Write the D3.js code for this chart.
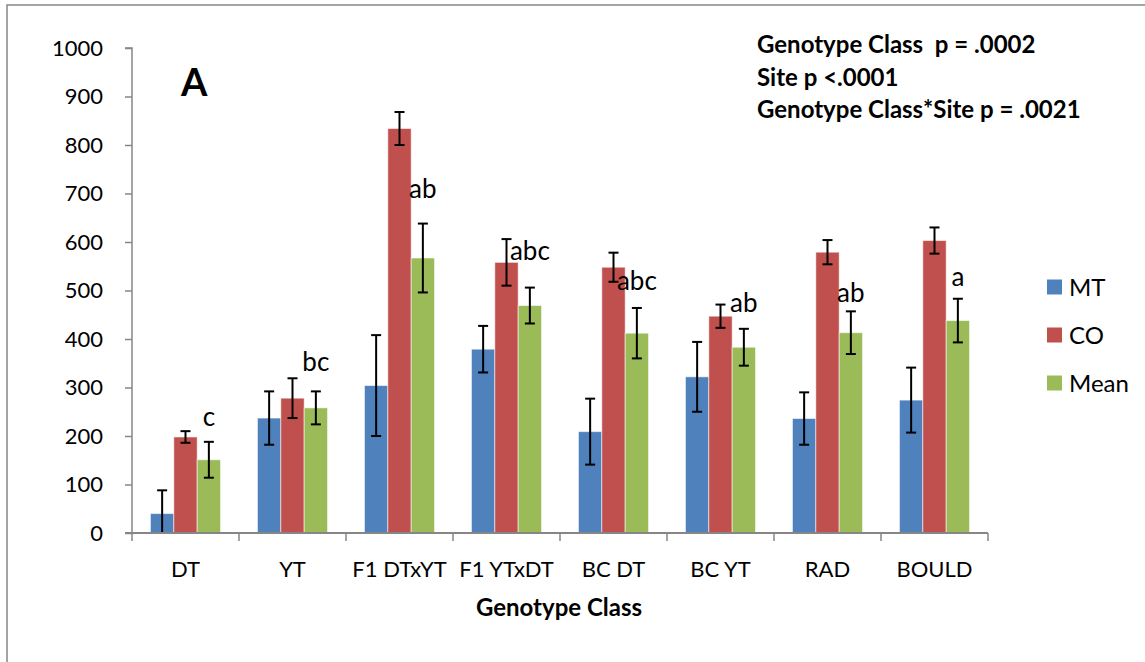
<!DOCTYPE html>
<html>
    <head>
        <meta charset="UTF-8" />
        <title>Genotype Class</title>
        <script src="https://d3js.org/d3.v7.min.js"></script>
        <style>
body {
    margin: 0px;
    background: white;
}
svg text {
    font-family: Lato, "Open Sans", sans-serif;
}
        </style>
    </head>
    <body>
        <svg id="chart" width="1145" height="662"></svg>
<script>
// data
const categories = ["DT", "YT", "F1 DTxYT", "F1 YTxDT", "BC DT", "BC YT", "RAD", "BOULD"];
const seriesNames = ["MT", "CO", "Mean"];
const mtValues   = [40, 237, 304, 379, 209, 322, 236, 274];
const mtErrors   = [48, 55, 104, 48, 68, 72, 54, 67];
const coValues   = [198, 278, 834, 558, 548, 447, 579, 603];
const coErrors   = [12, 41, 34, 48, 30, 24, 25, 27];
const meanValues = [151, 258, 567, 469, 412, 383, 413, 438];
const meanErrors = [37, 34, 71, 37, 52, 38, 44, 45];
const letters      = ["c", "bc", "ab", "abc", "abc", "ab", "ab", "a"];
const letterLevels = [220, 333, 690, 562, 502, 456, 477, 510];
const yTicks = [0, 100, 200, 300, 400, 500, 600, 700, 800, 900, 1000];
const statLines = ["Genotype Class  p = .0002", "Site p <.0001", "Genotype Class*Site p = .0021"];

const colors = {MT: "#4f81bd", CO: "#c0504d", Mean: "#9bbb59"};
const axisGray = "#868686";

let svg = d3.select("#chart");

// outer frame
svg.append("rect")
    .attr("x", 7).attr("y", 5)
    .attr("width", 1160).attr("height", 680)
    .attr("fill", "none")
    .attr("stroke", axisGray)
    .attr("stroke-width", 1.5);

let plotLeft = 132, plotRight = 988, plotTop = 48, plotBottom = 533;

let x0 = d3.scaleBand()
    .domain(categories)
    .range([plotLeft, plotRight])
    .paddingInner(0.345)
    .paddingOuter(0.1725);
let x1 = d3.scaleBand()
    .domain(seriesNames)
    .range([0, x0.bandwidth()]);
let y = d3.scaleLinear().domain([0, 1000]).range([plotBottom, plotTop]);

// rows per category
let rows = categories.map((c, i) => ({
    cat: c,
    bars: [
        {s: "MT", v: mtValues[i], e: mtErrors[i]},
        {s: "CO", v: coValues[i], e: coErrors[i]},
        {s: "Mean", v: meanValues[i], e: meanErrors[i]}
    ]
}));

let groups = svg.append("g").selectAll("g")
    .data(rows)
    .join("g")
    .attr("transform", d => `translate(${x0(d.cat)},0)`);

groups.selectAll("rect")
    .data(d => d.bars)
    .join("rect")
    .attr("x", d => x1(d.s))
    .attr("y", d => y(d.v))
    .attr("width", x1.bandwidth())
    .attr("height", d => y(0) - y(d.v))
    .attr("fill", d => colors[d.s])
    .attr("stroke", "rgba(255,255,255,0.55)")
    .attr("stroke-width", 1);

// error bars
let capW = 5;
let errs = groups.selectAll("g.err")
    .data(d => d.bars)
    .join("g")
    .attr("class", "err")
    .attr("stroke", "black")
    .attr("stroke-width", 2);
errs.each(function(d) {
    let g = d3.select(this);
    let cx = x1(d.s) + x1.bandwidth() / 2;
    let hi = d.v + d.e;
    let lo = Math.max(0, d.v - d.e);
    g.append("line").attr("x1", cx).attr("x2", cx).attr("y1", y(hi)).attr("y2", y(lo));
    g.append("line").attr("x1", cx - capW).attr("x2", cx + capW).attr("y1", y(hi)).attr("y2", y(hi));
    if (d.v - d.e > 0) {
        g.append("line").attr("x1", cx - capW).attr("x2", cx + capW).attr("y1", y(lo)).attr("y2", y(lo));
    }
});

// significance letters over the Mean bar
svg.append("g").selectAll("text")
    .data(categories)
    .join("text")
    .attr("x", (c, i) => x0(c) + x1("Mean") + x1.bandwidth() / 2)
    .attr("y", (c, i) => y(letterLevels[i]))
    .attr("text-anchor", "middle")
    .attr("font-size", 26)
    .attr("fill", "black")
    .text((c, i) => letters[i]);

// y axis
let yAxis = d3.axisLeft(y).tickValues(yTicks).tickSize(7).tickPadding(22).tickFormat(d3.format("d"));
let gy = svg.append("g").attr("transform", `translate(${plotLeft},0)`).call(yAxis);
gy.select(".domain").attr("stroke", axisGray).attr("stroke-width", 1.5).attr("d", `M-7,${plotTop}H0V${plotBottom}`);
gy.selectAll(".tick line").attr("stroke", axisGray).attr("stroke-width", 1.5);
gy.selectAll(".tick text").attr("font-size", 22).attr("fill", "black").style("font-family", "Lato");

// x axis with ticks at category boundaries
let gx = svg.append("g").attr("transform", `translate(0,${plotBottom})`);
gx.append("line")
    .attr("x1", plotLeft - 7).attr("x2", plotRight)
    .attr("stroke", axisGray).attr("stroke-width", 2);
let boundaries = d3.range(categories.length + 1).map(i => plotLeft + i * x0.step());
gx.selectAll("line.tk")
    .data(boundaries)
    .join("line")
    .attr("class", "tk")
    .attr("x1", d => d).attr("x2", d => d)
    .attr("y1", 0).attr("y2", 8)
    .attr("stroke", axisGray).attr("stroke-width", 1.5);
gx.selectAll("text")
    .data(categories)
    .join("text")
    .attr("x", d => x0(d) + x0.bandwidth() / 2)
    .attr("y", 44)
    .attr("text-anchor", "middle")
    .attr("font-size", 22)
    .attr("fill", "black")
    .text(d => d);

// axis title
svg.append("text")
    .attr("x", 559)
    .attr("y", 616)
    .attr("text-anchor", "middle")
    .attr("font-size", 24)
    .attr("font-weight", "bold")
    .text("Genotype Class");

// panel letter
svg.append("text")
    .attr("x", 181).attr("y", 96)
    .attr("font-size", 38)
    .attr("font-weight", "bold")
    .text("A");

// statistics
svg.append("g").selectAll("text")
    .data(statLines)
    .join("text")
    .attr("x", 757)
    .attr("y", (d, i) => 53 + i * 32.5)
    .attr("font-size", 24)
    .attr("font-weight", "bold")
    .style("white-space", "pre")
    .text(d => d);

// legend
let legend = svg.append("g").selectAll("g")
    .data(seriesNames)
    .join("g")
    .attr("transform", (d, i) => `translate(1047,${287 + i * 48})`);
legend.append("rect")
    .attr("x", 0).attr("y", -7.5)
    .attr("width", 15).attr("height", 15)
    .attr("fill", d => colors[d]);
legend.append("text")
    .attr("x", 22).attr("y", 8.5)
    .attr("font-size", 24)
    .text(d => d);
</script>
    </body>
</html>
